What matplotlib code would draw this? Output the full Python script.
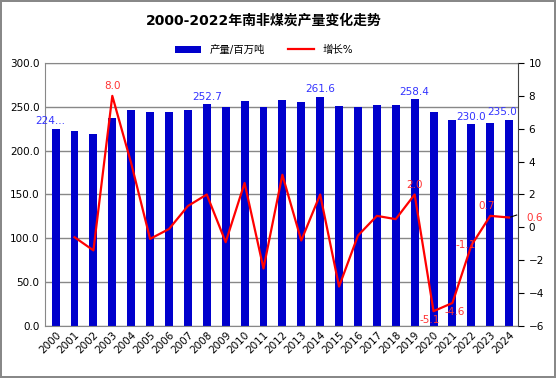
import numpy as np
import matplotlib
matplotlib.use("Agg")
import matplotlib.pyplot as plt

plt.rcParams['font.family'] = ['DejaVu Sans', 'Noto Sans CJK SC']

years = [str(y) for y in range(2000, 2025)]
output = [224.6, 222.4, 219.3, 237.2, 246.3, 244.3, 244.1, 246.3, 252.7, 249.7,
          256.5, 249.7, 257.7, 255.4, 261.6, 250.8, 249.7, 252.0, 252.0, 258.4,
          244.3, 234.5, 230.0, 231.0, 235.0]
growth = [np.nan, -0.6, -1.4, 8.0, 3.9, -0.7, -0.1, 1.3, 2.0, -0.9,
          2.7, -2.5, 3.2, -0.8, 2.0, -3.6, -0.5, 0.7, 0.5, 2.0,
          -5.1, -4.6, -1.1, 0.7, 0.6]
bar_labels = {0: "224...", 8: "252.7", 14: "261.6", 19: "258.4", 22: "230.0", 24: "235.0"}
line_labels = {3: "8.0", 19: "2.0", 20: "-5.1", 21: "-4.6", 22: "-1.1", 23: "0.7", 24: "0.6"}

fig = plt.figure(figsize=(5.56, 3.78), dpi=100)
fig.patch.set_edgecolor('#888888')
fig.patch.set_linewidth(1.5)
ax = fig.add_axes([0.081, 0.1376, 0.851, 0.6957])
ax2 = ax.twinx()

x = np.arange(len(years))
ax.bar(x, output, width=0.42, color='#0000CC', zorder=2, label='产量/百万吨')
ax.set_ylim(0, 300)
ax.set_yticks(np.arange(0, 301, 50))
ax.set_yticklabels([f"{v:.1f}" for v in np.arange(0, 301, 50)], fontsize=7.5)
ax.yaxis.grid(True, color='#888888', linewidth=1, zorder=0)
ax.set_axisbelow(True)
ax.tick_params(axis='y', length=0, pad=4)
ax.set_xlim(-0.56, 24.48)
ax.set_xticks(x)
ax.set_xticklabels(years, rotation=45, fontsize=7.5, ha='right', rotation_mode='anchor')
ax.tick_params(axis='x', length=0, pad=3)
for s in ['top', 'left', 'bottom']:
    ax.spines[s].set_color('#888888')
ax.spines['right'].set_visible(False)

for i, t in bar_labels.items():
    xo = -0.3 if i == 0 else 0
    xo = -0.35 if i == 24 else xo
    ax.text(i + xo, output[i] + 3, t, ha='center', va='bottom', fontsize=7.5, color='#3333FF')

ax2.plot(x, growth, color='#FF0000', linewidth=1.6, zorder=3, label='增长%')
ax2.set_ylim(-6, 10)
ax2.set_yticks(np.arange(-6, 11, 2))
ax2.tick_params(axis='y', labelsize=7.5, length=4, direction='out')
for s in ['top', 'left', 'bottom']:
    ax2.spines[s].set_visible(False)
ax2.spines['right'].set_color('#444444')

offsets = {3: (0, 0.3, 'center', 'bottom'), 19: (0, 0.3, 'center', 'bottom'),
           20: (-0.2, -0.25, 'center', 'top'), 21: (0.1, -0.25, 'center', 'top'),
           22: (-0.3, 0.0, 'center', 'center'), 23: (-0.2, 0.3, 'center', 'bottom'),
           24: (0.9, 0.0, 'left', 'center')}
for i, t in line_labels.items():
    dx, dy, ha, va = offsets[i]
    ax2.text(i + dx, growth[i] + dy, t, ha=ha, va=va, fontsize=7.5, color='#FF3333', zorder=4)
ax2.plot([24, 24.4], [growth[24], growth[24] + 0.15], color='black', linewidth=0.8)

fig.text(0.475, 0.945, '2000-2022年南非煤炭产量变化走势', ha='center', va='center',
         fontsize=10, fontweight='bold')
h1, l1 = ax.get_legend_handles_labels()
h2, l2 = ax2.get_legend_handles_labels()
fig.legend(h1 + h2, l1 + l2, loc='center', bbox_to_anchor=(0.475, 0.868), ncol=2,
           frameon=False, fontsize=7.5, handlelength=2.5, columnspacing=2.2, handleheight=0.6)

fig.savefig('out.png', dpi=100)
